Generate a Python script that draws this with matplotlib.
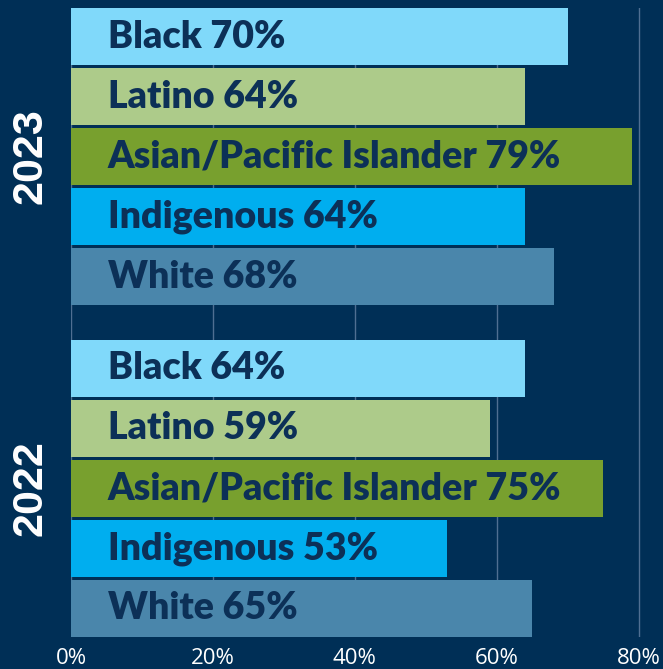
import matplotlib.pyplot as plt

# data
groups = ["Black", "Latino", "Asian/Pacific Islander", "Indigenous", "White"]
years = ["2023", "2022"]
vals_2023 = [70, 64, 79, 64, 68]
vals_2022 = [64, 59, 75, 53, 65]
colors = ["#80d9fa", "#adcb8a", "#78a02e", "#00aeef", "#4a86ab"]

bg = "#002f56"
text_dark = "#0c3057"
group_gap = 5.525  # offset between the two year groups (in bar slots)

fig = plt.figure(figsize=(6.63, 6.69), dpi=100, facecolor=bg)
ax = fig.add_axes([71 / 663, 32 / 669, 1 - 71 / 663, 629 / 669])
ax.set_facecolor(bg)

for gi, vals in enumerate([vals_2023, vals_2022]):
    ys = [gi * group_gap + i for i in range(len(groups))]
    ax.barh(ys, vals, height=0.94, color=colors, zorder=2)
    for y, g, v in zip(ys, groups, vals):
        ax.text(5.2, y, f"{g} {v}%", va="center", ha="left",
                fontsize=27, fontweight="heavy", family="Lato",
                color=text_dark, zorder=3)
    # year label on the left
    yc = gi * group_gap + 2
    ax.text(-0.069, yc, years[gi], rotation=90, va="center", ha="center",
            transform=ax.get_yaxis_transform(), fontsize=31,
            fontweight="bold", family="Liberation Sans", color="white")

ax.set_xlim(0, 83.4)
ax.set_ylim(10.0, -0.475)
ax.set_xticks([0, 20, 40, 60, 80])
ax.set_xticklabels(["0%", "20%", "40%", "60%", "80%"])
ax.set_yticks([])
ax.tick_params(axis="x", length=0, colors="white", labelsize=16, pad=8)
for lab in ax.get_xticklabels():
    lab.set_family("Open Sans")
ax.grid(axis="x", color="#4f6f92", linewidth=1, zorder=0)
ax.set_axisbelow(True)
for s in ax.spines.values():
    s.set_visible(False)

fig.savefig("out.png", dpi=100, facecolor=bg)
